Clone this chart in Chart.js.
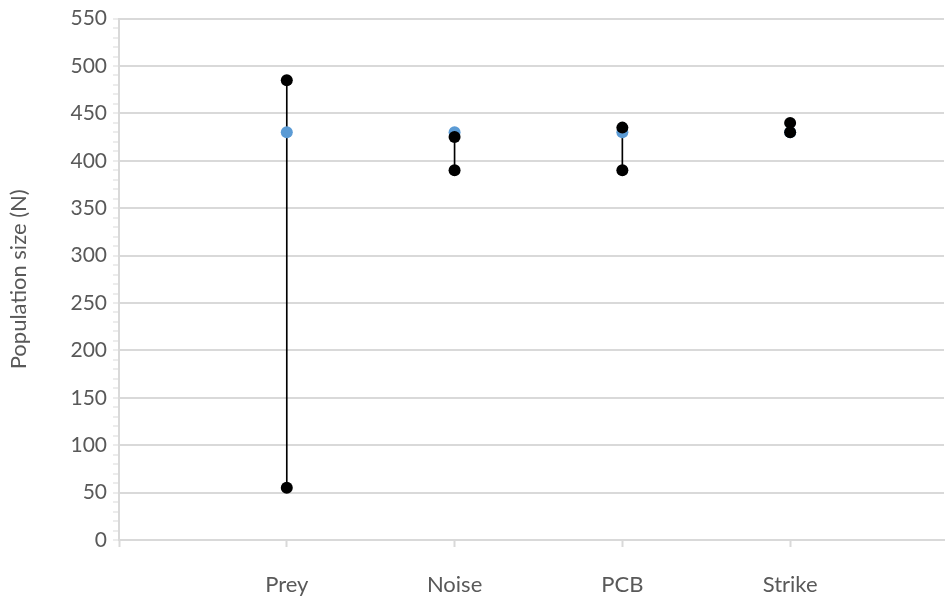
<!DOCTYPE html>
<html>
<head>
<meta charset="utf-8">
<script src="https://cdn.jsdelivr.net/npm/chart.js@4"></script>
<style>
  html, body { margin: 0; padding: 0; background: #fff; overflow: hidden; }
</style>
</head>
<body>
<canvas id="chart" width="950" height="600"></canvas>
<script>
const categories = ['Prey', 'Noise', 'PCB', 'Strike'];
const baseline = [430, 430, 430, 430];
const highValues = [485, 425, 435, 440];
const lowValues = [55, 390, 390, 430];

// category i sits at x = i + 1, the axis runs from 0 to just short of 5
const xMax = 4.917;
const toPoints = (arr) => arr.map((v, i) => ({ x: i + 1, y: v }));

const ctx = document.getElementById('chart').getContext('2d');
const textColor = '#595959';
const gridColor = '#d9d9d9';
const hidden = 'rgba(0,0,0,0)';
const font = { family: 'Lato', size: 21 };

new Chart(ctx, {
  data: {
    datasets: [
      {
        type: 'bar',
        data: categories.map((c, i) => ({ x: i + 1, y: [lowValues[i], highValues[i]] })),
        backgroundColor: '#000',
        barThickness: 1,
        order: 4
      },
      {
        type: 'scatter',
        data: toPoints(baseline),
        pointRadius: 6,
        pointBackgroundColor: '#5b9bd5',
        pointBorderWidth: 0,
        order: 3
      },
      {
        type: 'scatter',
        data: toPoints(highValues),
        pointRadius: 6,
        pointBackgroundColor: '#000',
        pointBorderWidth: 0,
        order: 2
      },
      {
        type: 'scatter',
        data: toPoints(lowValues),
        pointRadius: 6,
        pointBackgroundColor: '#000',
        pointBorderWidth: 0,
        order: 1
      }
    ]
  },
  options: {
    responsive: false,
    animation: false,
    layout: { padding: { top: 10, right: 0, bottom: 3, left: 6 } },
    plugins: {
      legend: { display: false },
      tooltip: { enabled: false }
    },
    scales: {
      x: {
        type: 'linear',
        min: 0,
        max: xMax,
        offset: false,
        border: { color: gridColor, width: 2 },
        grid: {
          offset: false,
          drawOnChartArea: false,
          drawTicks: true,
          tickLength: 7,
          tickColor: (c) => c.tick && Number.isInteger(c.tick.value) ? gridColor : hidden,
          tickWidth: 2
        },
        ticks: {
          stepSize: 1,
          color: textColor,
          font: { family: 'Lato', size: 22 },
          padding: 25,
          maxRotation: 0,
          autoSkip: false,
          callback: (v) => Number.isInteger(v) && v >= 1 && v <= categories.length ? categories[v - 1] : ''
        },
        afterFit: (scale) => {
          scale.height = 57;
          scale.paddingLeft = 0;
          scale.paddingRight = 0;
        }
      },
      y: {
        min: 0,
        max: 550,
        border: { color: gridColor, width: 2 },
        grid: {
          color: (c) => c.tick && c.tick.value % 50 === 0 ? gridColor : hidden,
          lineWidth: 2,
          tickLength: 6,
          tickColor: gridColor,
          tickWidth: 1
        },
        ticks: {
          stepSize: 10,
          autoSkip: false,
          color: textColor,
          font: font,
          padding: 6,
          callback: (v) => v % 50 === 0 ? v : ''
        },
        title: {
          display: true,
          text: 'Population size (N)',
          color: textColor,
          font: { family: 'Lato', size: 22 },
          padding: { top: 0, bottom: 40 }
        },
        afterFit: (scale) => { scale.width = 113; }
      }
    }
  }
});
</script>
</body>
</html>
